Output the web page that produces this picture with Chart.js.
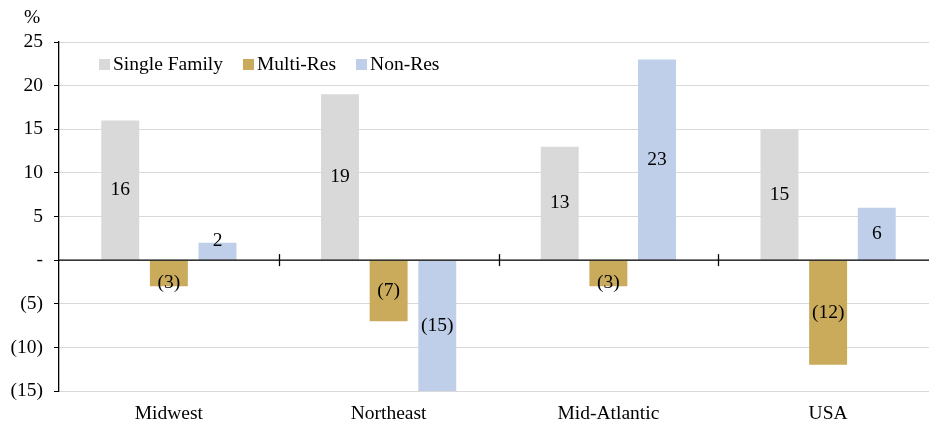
<!DOCTYPE html>
<html>
<head>
<meta charset="utf-8">
<script src="https://cdn.jsdelivr.net/npm/chart.js@4/dist/chart.umd.min.js"></script>
<style>
  html, body { margin: 0; padding: 0; background: #fff; overflow: hidden; }
  #wrap { width: 940px; height: 421px; position: relative; }
</style>
</head>
<body>
<div id="wrap"><canvas id="chart"></canvas></div>
<script>
// data
const regions = ['Midwest', 'Northeast', 'Mid-Atlantic', 'USA'];
const singleFamily = [16, 19, 13, 15];
const multiRes = [-3, -7, -3, -12];
const nonRes = [2, -15, 23, 6];
const yTicks = [25, 20, 15, 10, 5, 0, -5, -10, -15];

const FONT = '"Liberation Serif", "Times New Roman", serif';
const FS = 19.5;

// format like the source: negatives in brackets, zero as a dash
function fmt(v) {
  if (v === 0) return '-';
  return v < 0 ? '(' + Math.abs(v) + ')' : String(v);
}

// labels, legend, zero line and category ticks
const extras = {
  id: 'extras',
  afterDatasetsDraw(chart) {
    const ctx = chart.ctx;
    const x = chart.scales.x, y = chart.scales.y;
    const area = chart.chartArea;
    const zeroY = y.getPixelForValue(0);

    ctx.save();
    // zero axis line
    ctx.strokeStyle = '#000';
    ctx.lineWidth = 1.3;
    ctx.beginPath();
    ctx.moveTo(area.left, zeroY);
    ctx.lineTo(area.right, zeroY);
    ctx.stroke();
    // category separators crossing the zero line
    for (let i = 1; i < regions.length; i++) {
      const px = Math.round((x.getPixelForValue(i - 1) + x.getPixelForValue(i)) / 2) + 0.5;
      ctx.beginPath();
      ctx.moveTo(px, zeroY - 6);
      ctx.lineTo(px, zeroY + 6);
      ctx.stroke();
    }

    // value labels in the bars
    ctx.font = FS + 'px ' + FONT;
    ctx.fillStyle = '#000';
    ctx.textAlign = 'center';
    ctx.textBaseline = 'middle';
    chart.data.datasets.forEach((ds, di) => {
      chart.getDatasetMeta(di).data.forEach((bar, i) => {
        const v = ds.data[i];
        const h = Math.abs(bar.base - bar.y);
        let cy = (bar.y + bar.base) / 2;
        if (h < 30) cy += v < 0 ? 9 : -10;
        ctx.fillText(fmt(v), bar.x, cy);
      });
    });

    // legend inside the plot
    let lx = 99;
    const ly = 65;
    chart.data.datasets.forEach((ds) => {
      ctx.fillStyle = ds.backgroundColor;
      ctx.fillRect(lx, ly - 6, 11, 11);
      ctx.fillStyle = '#000';
      ctx.textAlign = 'left';
      ctx.fillText(ds.label, lx + 14, ly);
      lx += 14 + ctx.measureText(ds.label).width + 20;
    });

    // unit above the axis
    ctx.textAlign = 'left';
    ctx.fillText('%', 24, 18);
    ctx.restore();
  }
};

new Chart(document.getElementById('chart'), {
  type: 'bar',
  data: {
    labels: regions,
    datasets: [
      { label: 'Single Family', data: singleFamily, backgroundColor: '#D9D9D9' },
      { label: 'Multi-Res', data: multiRes, backgroundColor: '#C9AB5B' },
      { label: 'Non-Res', data: nonRes, backgroundColor: '#BFCFEA' }
    ]
  },
  options: {
    responsive: true,
    maintainAspectRatio: false,
    animation: false,
    categoryPercentage: 0.664,
    barPercentage: 0.78,
    layout: { padding: { top: 42, right: 2, left: 0, bottom: 0 } },
    plugins: {
      legend: { display: false },
      tooltip: { enabled: false }
    },
    scales: {
      x: {
        grid: { display: false, drawTicks: false },
        border: { display: false },
        ticks: {
          color: '#000',
          font: { family: FONT, size: FS },
          padding: 11,
          maxRotation: 0
        },
        afterFit(scale) { scale.height = 30; }
      },
      y: {
        min: -15,
        max: 25,
        afterBuildTicks(scale) { scale.ticks = yTicks.map(v => ({ value: v })); },
        grid: {
          color: '#D9D9D9',
          lineWidth: 1,
          tickColor: '#000',
          tickLength: 5
        },
        border: { display: true, color: '#000', width: 1.3 },
        ticks: {
          color: '#000',
          font: { family: FONT, size: FS },
          padding: 11,
          callback: (v) => fmt(v)
        },
        afterFit(scale) { scale.width = 59; }
      }
    }
  },
  plugins: [extras]
});
</script>
</body>
</html>
